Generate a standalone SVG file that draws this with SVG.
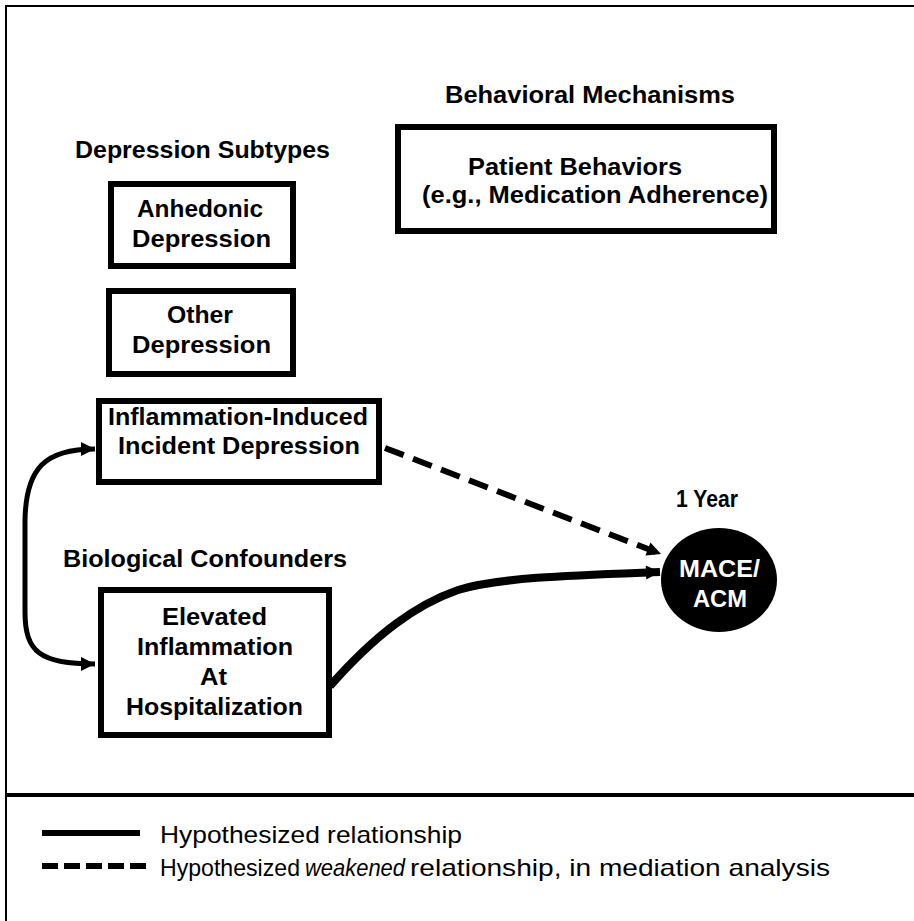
<svg xmlns="http://www.w3.org/2000/svg" width="914" height="921" viewBox="0 0 914 921">
<style>
.box{fill:#fff;stroke:#000;stroke-width:6}
.t{font-family:"Liberation Sans",Arial,sans-serif;font-weight:bold;font-size:23px;fill:#000}
.w{fill:#fff}
.lg{font-family:"Liberation Sans",Arial,sans-serif;font-size:24px;fill:#000}
.edge{fill:none;stroke:#000}
</style>
<defs>
<marker id="ah" viewBox="0 0 10 10" refX="10" refY="5" markerWidth="16" markerHeight="14" markerUnits="userSpaceOnUse" orient="auto">
<path d="M0,0 L10,5 L0,10 Z" fill="#000"/>
</marker>
<marker id="ahs" viewBox="0 0 10 10" refX="10" refY="5" markerWidth="16" markerHeight="14" markerUnits="userSpaceOnUse" orient="auto-start-reverse">
<path d="M0,0 L10,5 L0,10 Z" fill="#000"/>
</marker>
</defs>
<rect x="0" y="0" width="914" height="921" fill="#fff"/>
<g id="frame">
<path d="M914,6 H6 V921" fill="none" stroke="#000" stroke-width="2"/>
<line x1="5" y1="795" x2="914" y2="795" stroke="#000" stroke-width="4"/>
</g>
<g id="labels">
<text class="t" x="445" y="103" textLength="290" lengthAdjust="spacingAndGlyphs">Behavioral Mechanisms</text>
<text class="t" x="75" y="158" textLength="255" lengthAdjust="spacingAndGlyphs">Depression Subtypes</text>
<text class="t" x="63" y="567" textLength="284" lengthAdjust="spacingAndGlyphs">Biological Confounders</text>
<text class="t" x="676" y="507" textLength="62" lengthAdjust="spacingAndGlyphs">1 Year</text>
</g>
<g id="node-patient">
<rect class="box" x="398" y="127" width="376" height="104"/>
<text class="t" x="468" y="175" textLength="214" lengthAdjust="spacingAndGlyphs">Patient Behaviors</text>
<text class="t" x="422" y="203" textLength="346" lengthAdjust="spacingAndGlyphs">(e.g., Medication Adherence)</text>
</g>
<g id="node-anhedonic">
<rect class="box" x="111" y="184" width="182" height="82"/>
<text class="t" x="137" y="217" textLength="126" lengthAdjust="spacingAndGlyphs">Anhedonic</text>
<text class="t" x="132" y="247" textLength="139" lengthAdjust="spacingAndGlyphs">Depression</text>
</g>
<g id="node-other">
<rect class="box" x="109" y="291" width="184" height="83"/>
<text class="t" x="167" y="323" textLength="66" lengthAdjust="spacingAndGlyphs">Other</text>
<text class="t" x="132" y="353" textLength="139" lengthAdjust="spacingAndGlyphs">Depression</text>
</g>
<g id="node-inflammation-induced">
<rect class="box" x="99" y="401" width="280" height="81"/>
<text class="t" x="108" y="425" textLength="260" lengthAdjust="spacingAndGlyphs">Inflammation-Induced</text>
<text class="t" x="118" y="454" textLength="242" lengthAdjust="spacingAndGlyphs">Incident Depression</text>
</g>
<g id="node-elevated">
<rect class="box" x="101" y="590" width="228" height="145"/>
<text class="t" x="162" y="625" textLength="105" lengthAdjust="spacingAndGlyphs">Elevated</text>
<text class="t" x="137" y="655" textLength="156" lengthAdjust="spacingAndGlyphs">Inflammation</text>
<text class="t" x="200" y="685" textLength="27" lengthAdjust="spacingAndGlyphs">At</text>
<text class="t" x="126" y="715" textLength="177" lengthAdjust="spacingAndGlyphs">Hospitalization</text>
</g>
<g id="node-mace">
<ellipse cx="719" cy="580" rx="58" ry="52" fill="#000"/>
<text class="t w" x="679" y="577" textLength="81" lengthAdjust="spacingAndGlyphs">MACE/</text>
<text class="t w" x="693" y="607" textLength="54" lengthAdjust="spacingAndGlyphs">ACM</text>
</g>
<g id="connectors">
<path class="edge" stroke-width="5" d="M95,449 C45,449 26,468 25,520 L25,612 C25,652 40,664 95,664" marker-start="url(#ahs)" marker-end="url(#ah)"/>
<path class="edge" stroke-width="6" stroke-dasharray="20 10" d="M385,448 L661,554" marker-end="url(#ah)"/>
<path class="edge" stroke-width="8" d="M330,686 C375,635 415,605 458,590 C500,577 580,575 660,572" marker-end="url(#ah)"/>
</g>
<g id="legend">
<line x1="42" y1="833" x2="140" y2="833" stroke="#000" stroke-width="6"/>
<line x1="42" y1="866" x2="148" y2="866" stroke="#000" stroke-width="6" stroke-dasharray="16 6"/>
<text class="lg" x="160" y="843" textLength="302" lengthAdjust="spacingAndGlyphs">Hypothesized relationship</text>
<text class="lg" x="160" y="876" textLength="140" lengthAdjust="spacingAndGlyphs">Hypothesized</text>
<text class="lg" x="305" y="876" textLength="100" lengthAdjust="spacingAndGlyphs" font-style="italic">weakened</text>
<text class="lg" x="410" y="876" textLength="420" lengthAdjust="spacingAndGlyphs">relationship, in mediation analysis</text>
</g>
</svg>
